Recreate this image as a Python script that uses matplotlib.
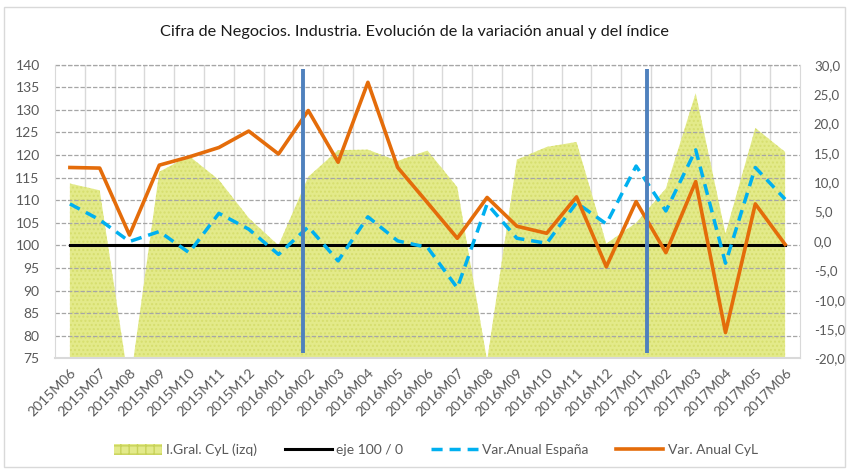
import matplotlib
matplotlib.use("Agg")
import matplotlib.pyplot as plt
from matplotlib.patches import Patch, Rectangle
from matplotlib.lines import Line2D
import numpy as np

plt.rcParams['font.family'] = ['Lato', 'DejaVu Sans']

categories = ['2015M06', '2015M07', '2015M08', '2015M09', '2015M10', '2015M11', '2015M12',
              '2016M01', '2016M02', '2016M03', '2016M04', '2016M05', '2016M06', '2016M07',
              '2016M08', '2016M09', '2016M10', '2016M11', '2016M12', '2017M01', '2017M02',
              '2017M03', '2017M04', '2017M05', '2017M06']

indice_cyl = [113.7, 112.2, 68.5, 116.3, 119.8, 114.5, 106.1, 100.0, 115.2, 121.1, 121.2,
              118.7, 121.0, 112.9, 74.5, 119.0, 121.8, 122.9, 100.4, 105.0, 112.6, 133.7,
              102.6, 126.0, 120.7]

eje = [100] * len(categories)

var_espana = [6.3, 3.6, -0.1, 1.6, -2.0, 4.7, 2.0, -2.3, 2.4, -3.4, 4.1, 0.0, -1.1, -8.0,
              6.3, 0.45, -0.4, 6.5, 2.9, 12.75, 5.1, 15.5, -3.8, 12.5, 7.1]

var_cyl = [12.5, 12.4, 1.0, 12.9, 14.3, 15.9, 18.7, 14.8, 22.2, 13.4, 27.0, 12.5, 6.5, 0.45,
           7.4, 2.5, 1.3, 7.5, -4.4, 6.7, -2.0, 10.1, -15.6, 6.3, -0.6]

left_ticks = list(range(75, 141, 5))
right_ticks = list(range(-20, 31, 5))

# positions of the two vertical marker lines (category-index units)
marker_x = [7.81, 19.37]

W, H = 849, 471
fig = plt.figure(figsize=(W / 100, H / 100), dpi=100)
ax = fig.add_axes([55 / W, 1 - 358.4 / H, (800 - 55) / W, (358.4 - 64.7) / H])
ax2 = ax.twinx()

x = np.arange(len(categories))
area_col = '#e3ea8a'
ax.fill_between(x, indice_cyl, 0, facecolor=area_col, edgecolor='#d6de6e',
                hatch='....', linewidth=0, zorder=1)
ax.plot(x, eje, color='black', lw=2.2, zorder=3)

ax.set_xlim(-0.5, len(categories) - 0.5)
ax.set_ylim(75, 140)
ax.set_yticks(left_ticks)
ax.set_yticklabels([str(v) for v in left_ticks])
ax2.set_ylim(-20, 30)
ax2.set_yticks(right_ticks)
ax2.set_yticklabels([f"{v:.1f}".replace('.', ',') for v in right_ticks])

# grid
for yv in left_ticks[1:]:
    ax.axhline(yv, color='#a6a6a6', lw=0.9, ls=(0, (3.5, 1.5)), zorder=1.5)
for b in np.arange(-0.5, len(categories) + 0.5, 1.0)[1:-1]:
    ax.axvline(b, color='#d9d9d9', lw=1.0, zorder=0.5)

ax2.plot(x, var_espana, color='#00b0f0', lw=2.5, ls=(0, (3.2, 2.0)), zorder=3)
ax2.plot(x, var_cyl, color='#e46c0a', lw=2.6, zorder=4)

for mx in marker_x:
    ax2.plot([mx, mx], [76.2, 139.0], color='#4f81bd', lw=2.8, zorder=6,
             transform=ax.transData, solid_capstyle='butt')

ax.set_xticks(x)
ax.set_xticklabels(categories, rotation=45, ha='right', rotation_mode='anchor')
for a in (ax, ax2):
    a.tick_params(length=0, labelsize=10, colors='#595959')
    for s in a.spines.values():
        s.set_visible(False)
ax.tick_params(axis='y', pad=11)
ax2.tick_params(axis='y', pad=10, labelsize=9.5)
ax.tick_params(axis='x', pad=6)
ax.spines['bottom'].set_visible(True)
ax.spines['bottom'].set_color('#d9d9d9')
ax.spines['bottom'].set_linewidth(1.5)
ax.spines['left'].set_visible(True)
ax.spines['left'].set_color('#d9d9d9')
ax.spines['right'].set_visible(True)
ax.spines['right'].set_color('#d9d9d9')
ax.axhline(140, color='#a6a6a6', lw=0.9, ls=(0, (3.5, 1.5)), zorder=1.5, clip_on=False)

fig.text(415 / W, 1 - 32 / H, 'Cifra de Negocios. Industria. Evolución de la variación anual y del índice',
         ha='center', va='center', fontsize=11.7, color='#1a1a1a')

handles = [
    Patch(facecolor=area_col, edgecolor='#c8d25a', hatch='++', linewidth=0),
    Line2D([], [], color='black', lw=2.2),
    Line2D([], [], color='#00b0f0', lw=2.5, ls=(0, (3.2, 2.0))),
    Line2D([], [], color='#e46c0a', lw=2.6),
]
labels = ['I.Gral. CyL (izq)', 'eje 100 / 0', 'Var.Anual España', 'Var. Anual CyL']
fig.legend(handles, labels, loc='center', bbox_to_anchor=(436 / W, 1 - 450 / H), ncol=4,
           frameon=False, fontsize=10, labelcolor='#595959', handlelength=3.4,
           handletextpad=0.3, columnspacing=2.0, handleheight=0.9)

fig.patches.append(Rectangle((4 / W, 4 / H), 841 / W, 460 / H, transform=fig.transFigure,
                             fill=False, edgecolor='#d9d9d9', lw=1.0))

fig.savefig('out.png', dpi=100)
